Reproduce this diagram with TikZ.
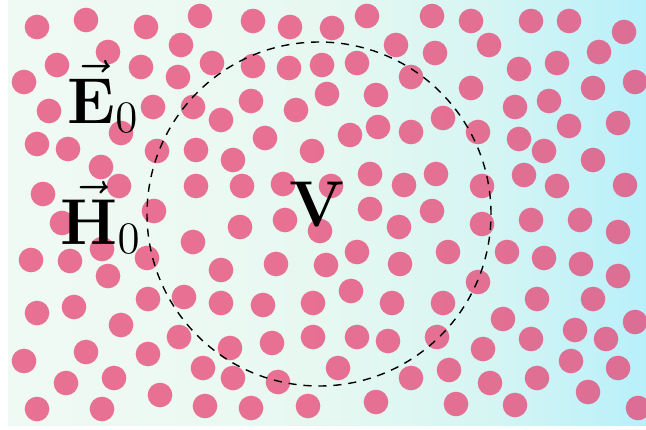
\documentclass[tikz,border=0pt]{standalone}
\usepackage{amsmath}
\definecolor{dotc}{RGB}{231,72,119}
\pgfdeclarehorizontalshading{bgshade}{100bp}{
  rgb(0bp)=(0.941,0.980,0.957);
  rgb(25bp)=(0.941,0.980,0.957);
  rgb(37.5bp)=(0.929,0.976,0.953);
  rgb(50bp)=(0.902,0.973,0.945);
  rgb(62.5bp)=(0.839,0.961,0.953);
  rgb(75bp)=(0.722,0.941,0.980);
  rgb(100bp)=(0.722,0.941,0.980)}
\tikzset{
  particle/.style={fill=dotc, fill opacity=0.77, draw=none},
  boundary/.style={line width=0.45pt, dash pattern=on 2.6pt off 2.2pt},
  lbl/.style={inner sep=0pt, font=\huge, text=black}
}
\begin{document}
\begin{tikzpicture}[x=0.32pt,y=-0.32pt]
\useasboundingbox (0,0) rectangle (646,429);
\fill[white] (0,0) rectangle (646,429);
\clip (0,0) rectangle (646,429);
\shade[shading=bgshade] (8,0) rectangle (646,425);
\foreach \px/\py in {
37/27,86/20,146/27,200/16,253/21,290/27,332/28,367/16,432/16,471/21,531/21,569/21,624/32,
108/52,181/45,57/65,141/67,212/63,253/66,289/68,322/65,357/63,396/45,435/53,489/45,519/69,557/63,599/52,
24/82,178/77,411/77,635/82,
327/94,376/95,471/88,593/88,49/111,153/107,193/107,251/101,296/110,515/107,549/101,
121/133,221/120,265/138,350/135,378/127,411/132,443/118,478/132,519/139,569/126,618/123,
37/144,68/149,101/167,157/151,196/150,233/160,312/151,544/151,593/160,
119/186,43/194,196/186,242/186,283/184,331/186,370/174,404/185,436/174,482/186,524/175,557/186,625/185,
62/223,154/211,240/227,285/220,320/231,370/209,432/211,399/227,482/224,531/220,580/220,618/232,
31/260,70/261,102/249,147/258,193/242,221/270,276/264,326/265,357/252,400/264,448/252,507/252,544/258,581/264,618/276,108/276,
478/282,351/291,37/313,74/307,148/299,184/297,221/303,263/305,313/303,392/303,443/303,537/299,593/299,
121/325,179/337,230/348,272/343,313/337,357/337,388/341,437/337,483/349,503/319,531/339,575/330,606/339,635/322,24/361,86/352,148/354,
66/383,114/378,160/395,203/368,233/378,278/382,338/368,411/378,449/370,490/383,571/361,618/368,537/378,588/392,
37/409,102/409,205/406,251/408,308/406,376/402,456/404,515/405,638/408}
  \fill[particle] (\px,\py) circle[radius=3.94pt];
\draw[boundary] (319,214) circle[radius=55.04pt];
\node[lbl, anchor=base west] (E0) at (67,123) {$\vec{\mathbf{E}}_0$};
\node[lbl, anchor=base west] (H0) at (60,244) {$\vec{\mathbf{H}}_0$};
\node[lbl, anchor=base] (V) at (318,226) {$\mathbf{V}$};
\end{tikzpicture}
\end{document}
